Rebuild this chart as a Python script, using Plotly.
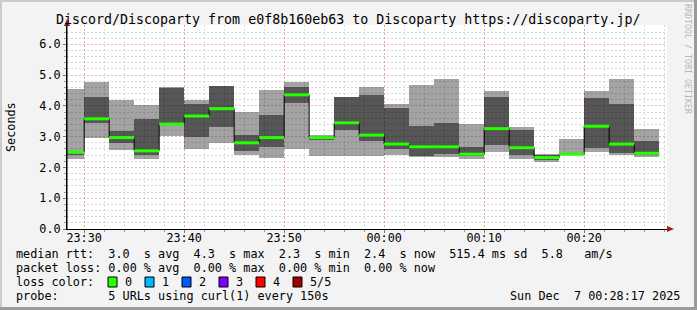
import plotly.graph_objects as go
from datetime import datetime, timedelta

# ---------------- data (seconds) ----------------
first_step_start = "2025-12-06 23:27:30"
step_seconds = 150
range_start = "2025-12-06 23:28:17"
range_end = "2025-12-07 00:28:17"

rtt_p1 = [2.27, 2.97, 2.58, 2.27, 3.02, 2.61, 2.80, 2.39, 2.32, 2.61, 2.36, 2.36, 2.36,
          2.40, 2.33, 2.33, 2.27, 2.51, 2.28, 2.19, 2.39, 2.51, 2.40, 2.35]
rtt_p2 = [2.40, 3.45, 2.78, 2.40, 3.38, 2.98, 3.32, 2.54, 2.67, 4.10, 2.89, 3.21, 2.87,
          2.59, 2.36, 2.43, 2.36, 2.73, 2.40, 2.24, 2.41, 2.62, 2.46, 2.40]
rtt_median = [2.49, 3.58, 2.97, 2.54, 3.41, 3.67, 3.91, 2.80, 2.97, 4.36, 2.97, 3.45, 3.05,
              2.76, 2.67, 2.67, 2.43, 3.26, 2.64, 2.32, 2.43, 3.34, 2.76, 2.46]
rtt_p4 = [2.52, 4.29, 3.18, 3.57, 4.58, 4.06, 4.64, 3.05, 3.70, 4.61, 3.03, 4.28, 4.35,
          3.94, 3.34, 3.43, 2.67, 4.29, 3.21, 2.40, 2.45, 4.25, 4.05, 2.86]
rtt_p5 = [4.55, 4.78, 4.19, 4.03, 4.60, 4.19, 4.66, 3.81, 4.52, 4.77, 3.05, 4.29, 4.60,
          4.05, 4.68, 4.87, 3.41, 4.48, 3.30, 2.43, 2.92, 4.48, 4.87, 3.25]

x_tick_labels = ["23:30", "23:40", "23:50", "00:00", "00:10", "00:20"]
loss_labels = ["0", "1", "2", "3", "4", "5/5"]
loss_colors = ["#26ff00", "#00b8ff", "#0059ff", "#7e00ff", "#ff0000", "#a10000"]

title_text = "Discord/Discoparty from e0f8b160eb63 to Discoparty https://discoparty.jp/"
legend_lines = [
    "median rtt:  3.0  s avg  4.3  s max  2.3  s min  2.4  s now  515.4 ms sd  5.8   am/s",
    "packet loss: 0.00 % avg  0.00 % max  0.00 % min  0.00 % now",
    "loss color:",
    "probe:       5 URLs using curl(1) every 150s",
]
date_text = "Sun Dec  7 00:28:17 2025"

# ---------------- geometry ----------------
W, H = 697, 310
L, R, T, B = 67, 667, 25, 229
PX_PER_UNIT = 30.78
y_top = (B - T) / PX_PER_UNIT


def px(x):
    return (x - L) / (R - L)


def py(y):
    return (B - y) / (B - T)


FONT = "DejaVu Sans Mono"
t0 = datetime.strptime(first_step_start, "%Y-%m-%d %H:%M:%S")
n = len(rtt_median)
starts = [t0 + timedelta(seconds=step_seconds * i) for i in range(n)]
ends = [s + timedelta(seconds=step_seconds) for s in starts]
width_ms = step_seconds * 1000
tick_vals = [datetime(2025, 12, 6, 23, 30) + timedelta(minutes=10 * i) for i in range(len(x_tick_labels))]

fig = go.Figure()

# outer smoke (fastest .. slowest)
fig.add_trace(go.Bar(
    x=starts, base=rtt_p1, y=[b - a for a, b in zip(rtt_p1, rtt_p5)],
    width=[width_ms] * n, offset=0,
    marker=dict(color="rgba(0,0,0,0.36)", line=dict(width=0)),
    hoverinfo="skip", showlegend=False))
# inner smoke
fig.add_trace(go.Bar(
    x=starts, base=rtt_p2, y=[b - a for a, b in zip(rtt_p2, rtt_p4)],
    width=[width_ms] * n, offset=0,
    marker=dict(color="rgba(0,0,0,0.47)", line=dict(width=0)),
    hoverinfo="skip", showlegend=False))
# black median step line
fig.add_trace(go.Scatter(
    x=starts + [ends[-1]], y=rtt_median + [rtt_median[-1]],
    mode="lines", line=dict(color="#000000", width=1, shape="hv"),
    hoverinfo="skip", showlegend=False))
# green median segments (loss 0)
gx, gy = [], []
for s, e, m in zip(starts, ends, rtt_median):
    gx += [s, e, None]
    gy += [m, m, None]
fig.add_trace(go.Scatter(
    x=gx, y=gy, mode="lines", line=dict(color=loss_colors[0], width=3),
    hoverinfo="skip", showlegend=False))

grid_minor = "rgba(185,185,185,0.55)"
grid_major = "rgba(240,110,110,0.5)"
dash = "2px,2px"

fig.update_layout(
    width=W, height=H, autosize=False,
    margin=dict(l=L, r=W - R, t=T, b=H - B, pad=0),
    paper_bgcolor="#f3f3f3", plot_bgcolor="#ffffff",
    barmode="overlay", bargap=0,
    showlegend=False,
    font=dict(family=FONT, size=12, color="#000000"),
    xaxis=dict(
        type="date", range=[range_start, range_end],
        tickmode="array", tickvals=tick_vals, ticktext=x_tick_labels,
        showgrid=True, gridcolor=grid_major, griddash=dash, gridwidth=1,
        showline=True, linecolor="#000000", linewidth=1,
        ticks="outside", ticklen=3, tickcolor="#777777",
        ticklabelstandoff=-5,
        tickfont=dict(family=FONT, size=11.8, color="#000000"),
        zeroline=False, fixedrange=True,
        minor=dict(dtick=120000, tick0="2025-12-06 23:30:00",
                   showgrid=True, gridcolor=grid_minor, griddash=dash,
                   ticks="outside", ticklen=2, tickcolor="#999999"),
    ),
    yaxis=dict(
        range=[0, y_top], tick0=0, dtick=1, tickformat=".1f",
        showgrid=True, gridcolor=grid_major, griddash=dash, gridwidth=1,
        showline=True, linecolor="#000000", linewidth=1,
        ticks="outside", ticklen=3, tickcolor="#777777",
        tickfont=dict(family=FONT, size=11.8, color="#000000"),
        zeroline=False, fixedrange=True,
        minor=dict(dtick=0.2, tick0=0, showgrid=True, gridcolor=grid_minor,
                   griddash=dash, ticks="outside", ticklen=2, tickcolor="#999999"),
    ),
)

NB = "\u00a0"
annotations = []
annotations.append(dict(
    x=px(348), y=py(19), xref="paper", yref="paper", text=title_text,
    showarrow=False, xanchor="center", yanchor="middle",
    font=dict(family=FONT, size=13.3, color="#000000")))
annotations.append(dict(
    x=px(11), y=py(127), xref="paper", yref="paper", text="Seconds",
    showarrow=False, textangle=-90, xanchor="center", yanchor="middle",
    font=dict(family=FONT, size=11.8, color="#000000")))
annotations.append(dict(
    x=px(688), y=py(59), xref="paper", yref="paper", text="RRDTOOL / TOBI OETIKER",
    showarrow=False, textangle=90, xanchor="center", yanchor="middle",
    font=dict(family=FONT, size=8.3, color="#b8b8b8")))

line_y = [254, 268, 282, 296]
for txt, yy in zip(legend_lines, line_y):
    annotations.append(dict(
        x=px(14), y=py(yy), xref="paper", yref="paper", text=txt.replace(" ", NB),
        showarrow=False, xanchor="left", yanchor="middle",
        font=dict(family=FONT, size=11.8, color="#000000")))
annotations.append(dict(
    x=px(682), y=py(296), xref="paper", yref="paper", text=date_text.replace(" ", NB),
    showarrow=False, xanchor="right", yanchor="middle",
    font=dict(family=FONT, size=11.8, color="#000000")))

shapes = []
box_x = [108, 145, 182, 219, 256, 293]
for bx, lab, col in zip(box_x, loss_labels, loss_colors):
    shapes.append(dict(type="rect", xref="paper", yref="paper",
                       x0=px(bx), x1=px(bx + 9), y0=py(287), y1=py(277),
                       fillcolor=col, line=dict(color="#000000", width=1)))
    annotations.append(dict(
        x=px(bx + 15), y=py(282), xref="paper", yref="paper", text=lab,
        showarrow=False, xanchor="left", yanchor="middle",
        font=dict(family=FONT, size=11.8, color="#000000")))

# axis arrows
shapes.append(dict(type="path", xref="paper", yref="paper",
                   path=f"M {px(64)} {py(26)} L {px(70)} {py(26)} L {px(67)} {py(19)} Z",
                   fillcolor="#a02020", line=dict(width=0)))
shapes.append(dict(type="line", xref="paper", yref="paper",
                   x0=px(67), x1=px(67), y0=py(229), y1=py(24),
                   line=dict(color="#000000", width=1)))
shapes.append(dict(type="path", xref="paper", yref="paper",
                   path=f"M {px(667)} {py(226)} L {px(667)} {py(232)} L {px(674)} {py(229)} Z",
                   fillcolor="#a02020", line=dict(width=0)))
# frame (3D-ish border)
shapes.append(dict(type="line", xref="paper", yref="paper",
                   x0=px(0), x1=px(697), y0=py(1), y1=py(1),
                   line=dict(color="#cbcbcb", width=2)))
shapes.append(dict(type="line", xref="paper", yref="paper",
                   x0=px(1), x1=px(1), y0=py(0), y1=py(310),
                   line=dict(color="#cbcbcb", width=2)))
shapes.append(dict(type="line", xref="paper", yref="paper",
                   x0=px(695.5), x1=px(695.5), y0=py(0), y1=py(310),
                   line=dict(color="#9a9a9a", width=3)))
shapes.append(dict(type="line", xref="paper", yref="paper",
                   x0=px(0), x1=px(697), y0=py(308.5), y1=py(308.5),
                   line=dict(color="#9a9a9a", width=3)))

fig.update_layout(annotations=annotations, shapes=shapes)
fig.write_html("out.html")
